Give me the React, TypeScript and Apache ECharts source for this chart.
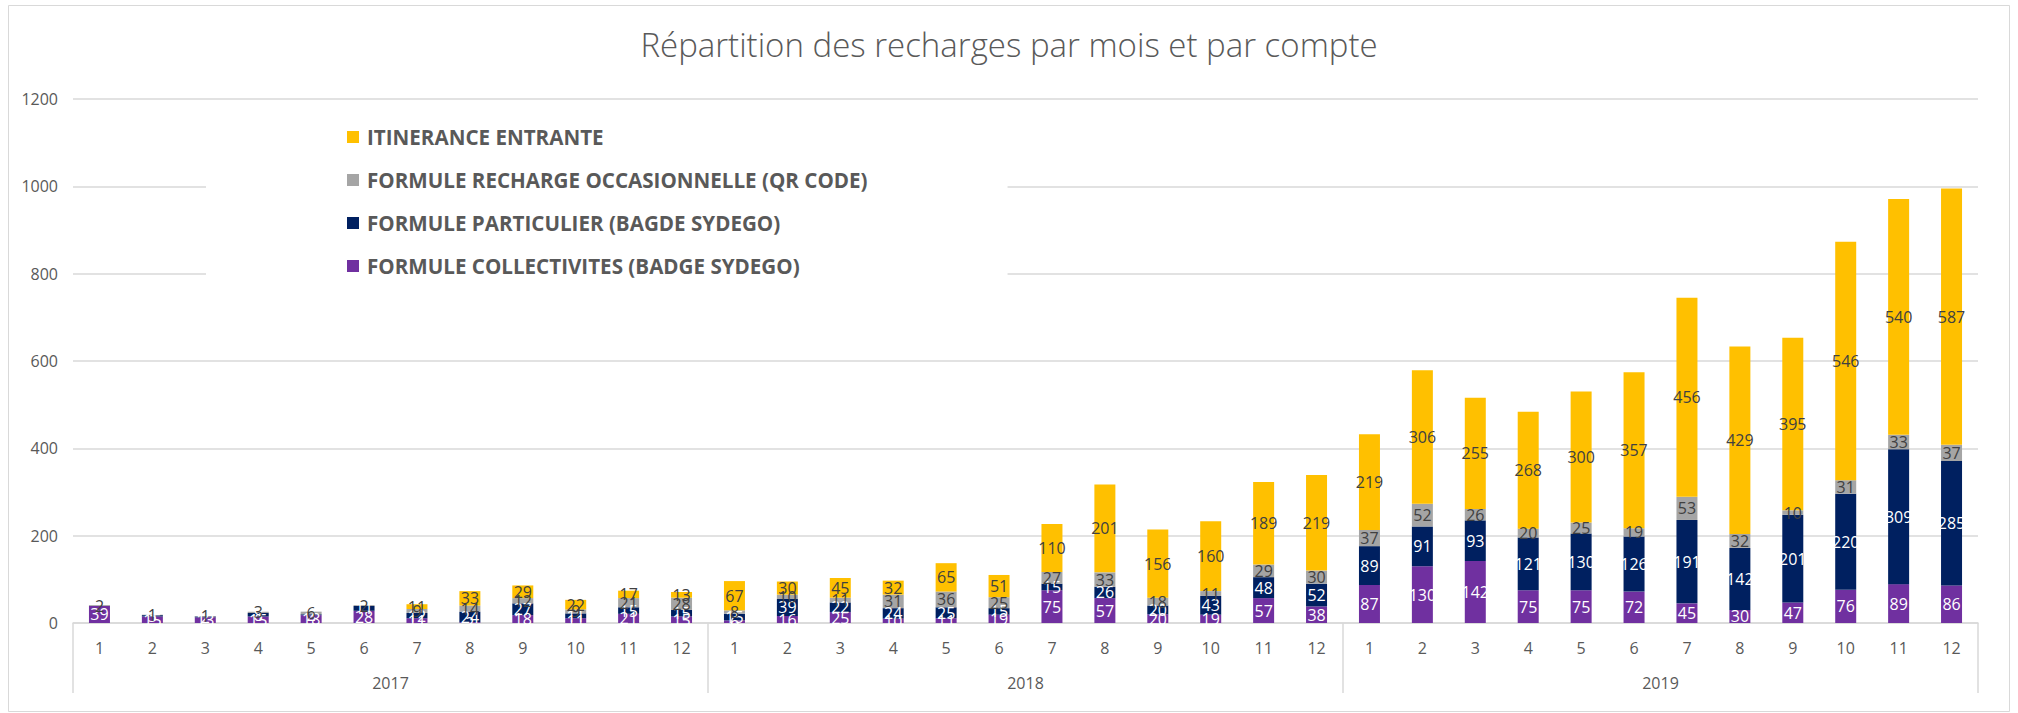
import React, { useEffect, useRef } from 'react';
import * as echarts from 'echarts';

const title = 'Répartition des recharges par mois et par compte';
const years = ['2017', '2018', '2019'];
const months = ['1', '2', '3', '4', '5', '6', '7', '8', '9', '10', '11', '12'];

const seriesNames = [
  'FORMULE COLLECTIVITES (BADGE SYDEGO)',
  'FORMULE PARTICULIER (BAGDE SYDEGO)',
  'FORMULE RECHARGE OCCASIONNELLE (QR CODE)',
  'ITINERANCE ENTRANTE',
];

const collectivites = [
  39, 15, 13, 15, 18, 28, 11, 2, 18, 11, 21, 15,
  6, 16, 25, 10, 11, 19, 75, 57, 20, 19, 57, 38,
  87, 130, 142, 75, 75, 72, 45, 30, 47, 76, 89, 86,
];
const particulier = [
  0, 3, 2, 8, 2, 11, 12, 24, 27, 11, 15, 15,
  15, 39, 22, 24, 25, 15, 15, 26, 20, 43, 48, 52,
  89, 91, 93, 121, 130, 126, 191, 142, 201, 220, 309, 285,
];
const occasionnelle = [
  2, 1, 1, 3, 6, 2, 9, 14, 12, 9, 21, 28,
  8, 10, 11, 31, 36, 25, 27, 33, 18, 11, 29, 30,
  37, 52, 26, 20, 25, 19, 53, 32, 10, 31, 33, 37,
];
const itinerance = [
  0, 0, 0, 0, 0, 0, 11, 33, 29, 22, 17, 13,
  67, 30, 45, 32, 65, 51, 110, 201, 156, 160, 189, 219,
  219, 306, 255, 268, 300, 357, 456, 429, 395, 546, 540, 587,
];

const colors = ['#7030A0', '#002060', '#A5A5A5', '#FFC000'];
const labelColors = ['#ffffff', '#ffffff', '#404040', '#404040'];

export default function App() {
  const ref = useRef<HTMLDivElement>(null);
  useEffect(() => {
    if (!ref.current) return;
    const chart = echarts.init(ref.current, undefined, { renderer: 'svg' });
    const categories: string[] = [];
    years.forEach(() => months.forEach((m) => categories.push(m)));
    const dataSets = [collectivites, particulier, occasionnelle, itinerance];
    const font = '"Open Sans", sans-serif';
    chart.setOption({
      animation: false,
      backgroundColor: '#ffffff',
      textStyle: { fontFamily: font },
      title: {
        text: title,
        left: 'center',
        top: 23,
        textStyle: { fontFamily: font, fontSize: 33, fontWeight: 300, color: '#595959' },
      },
      graphic: [
        {
          type: 'rect',
          left: 6,
          top: 3,
          shape: { width: 2001, height: 706 },
          style: { fill: 'none', stroke: '#d9d9d9', lineWidth: 1 },
          silent: true,
        },
      ],
      legend: {
        orient: 'vertical',
        left: 206,
        top: 110,
        padding: [16, 140, 12, 141],
        backgroundColor: '#ffffff',
        icon: 'rect',
        itemWidth: 12,
        itemHeight: 12,
        itemGap: 21,
        selectedMode: false,
        data: [seriesNames[3], seriesNames[2], seriesNames[1], seriesNames[0]],
        textStyle: {
          fontFamily: font,
          fontSize: 20.6,
          fontWeight: 'bold',
          color: '#595959',
          lineHeight: 22,
          padding: [0, 0, 0, 3],
        },
        z: 10,
      },
      grid: { left: 73, right: 40, top: 99, bottom: 90, containLabel: false },
      xAxis: [
        {
          type: 'category',
          data: categories,
          position: 'bottom',
          axisLine: { show: true, lineStyle: { color: '#d9d9d9', width: 1.5 } },
          axisTick: { show: false },
          axisLabel: { interval: 0, margin: 17, fontSize: 16, color: '#595959', fontFamily: font },
        },
        {
          type: 'category',
          data: years,
          position: 'bottom',
          axisLine: { show: false },
          axisTick: { show: true, interval: 0, length: 70, lineStyle: { color: '#d9d9d9', width: 1.5 } },
          axisLabel: { interval: 0, margin: 52, fontSize: 16, color: '#595959', fontFamily: font },
        },
      ],
      yAxis: {
        type: 'value',
        min: 0,
        max: 1200,
        interval: 200,
        axisLine: { show: false },
        axisTick: { show: false },
        axisLabel: {
          margin: 15,
          fontSize: 16,
          color: '#595959',
          fontFamily: font,
          formatter: (v: number) => String(v),
        },
        splitLine: { lineStyle: { color: '#d9d9d9', width: 1.5 } },
      },
      series: dataSets.map((d, i) => ({
        name: seriesNames[i],
        type: 'bar',
        stack: 'total',
        xAxisIndex: 0,
        barWidth: 21,
        data: d,
        itemStyle: { color: colors[i] },
        label: {
          show: true,
          position: 'inside',
          fontSize: 16,
          fontFamily: font,
          color: labelColors[i],
          formatter: (p: any) => (p.value ? String(p.value) : ''),
        },
      })),
    });
    return () => chart.dispose();
  }, []);
  return (
    <div
      ref={ref}
      style={{ position: 'absolute', left: 0, top: 0, width: 2018, height: 713 }}
    />
  );
}
